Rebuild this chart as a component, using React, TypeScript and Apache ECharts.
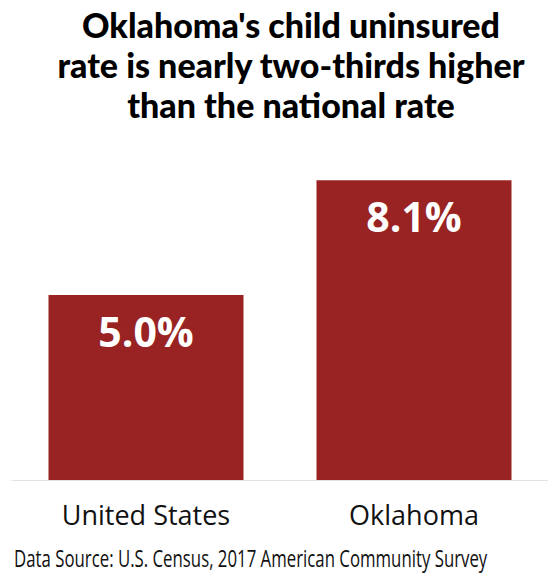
import React, { useEffect, useRef } from "react";
import * as echarts from "echarts";

const categories = ["United States", "Oklahoma"];
const values = [5.0, 8.1];
const titleLines = [
  "Oklahoma's child uninsured",
  "rate is nearly two-thirds higher",
  "than the national rate",
];
const sourceText = "Data Source: U.S. Census, 2017 American Community Survey";

export default function App() {
  const ref = useRef<HTMLDivElement>(null);
  useEffect(() => {
    if (!ref.current) return;
    const chart = echarts.init(ref.current, null, { renderer: "svg" });
    chart.setOption({
      animation: false,
      backgroundColor: "#ffffff",
      title: {
        text: titleLines.join("\n"),
        left: 286,
        top: -1,
        textAlign: "center",
        textStyle: {
          fontFamily: "Lato",
          fontWeight: 900,
          fontSize: 34,
          lineHeight: 40,
          color: "#000000",
        },
      },
      grid: { left: 12, width: 548, top: 110, bottom: 99, containLabel: false },
      xAxis: {
        type: "category",
        data: categories,
        axisLine: { show: true, lineStyle: { color: "#e3e3e3", width: 1 } },
        axisTick: { show: false },
        axisLabel: {
          fontFamily: "Open Sans",
          fontSize: 27,
          color: "#111111",
          margin: 21,
        },
      },
      yAxis: {
        type: "value",
        min: 0,
        max: 10,
        show: false,
        splitLine: { show: false },
      },
      series: [
        {
          type: "bar",
          data: values,
          barWidth: 195,
          itemStyle: { color: "#982322" },
          label: {
            show: true,
            position: "insideTop",
            distance: 15,
            formatter: (p: any) => p.value.toFixed(1) + "%",
            fontFamily: "Open Sans",
            fontWeight: "bold",
            fontSize: 41,
            color: "#ffffff",
          },
        },
      ],
      graphic: [
        {
          type: "text",
          x: 14,
          y: 546,
          scaleX: 0.7,
          style: {
            text: sourceText,
            fontFamily: "Open Sans",
            fontSize: 24,
            fill: "#111111",
            textVerticalAlign: "top",
          },
        },
      ],
    });
    return () => chart.dispose();
  }, []);
  return (
    <div
      ref={ref}
      style={{ position: "fixed", left: 0, top: 0, width: 548, height: 579 }}
    />
  );
}
